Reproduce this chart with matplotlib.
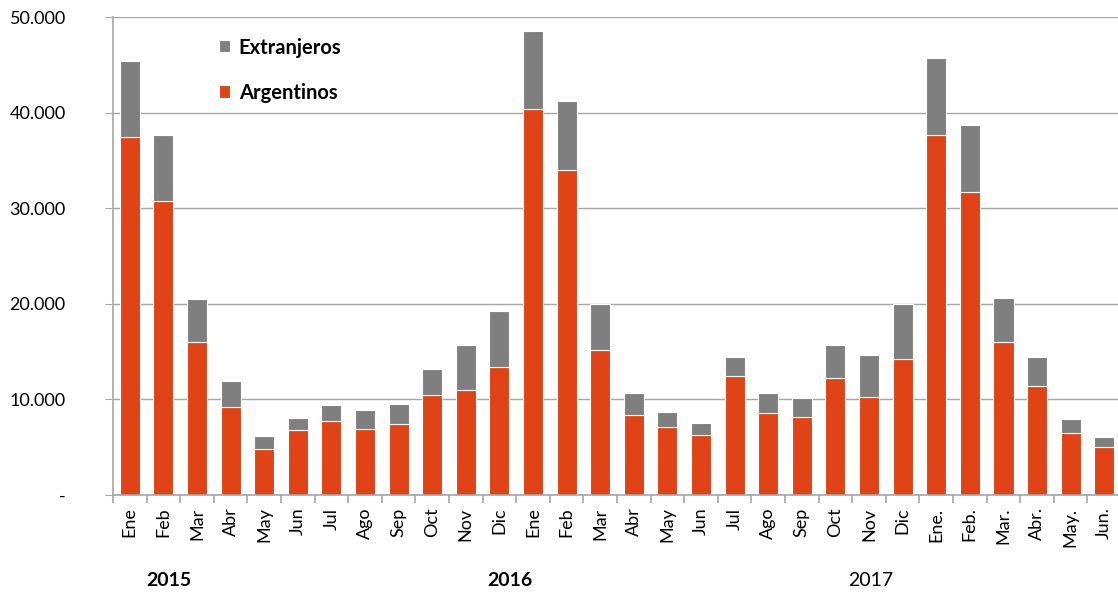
import numpy as np
import matplotlib.pyplot as plt
from matplotlib.ticker import FixedLocator, FuncFormatter

plt.rcParams['font.family'] = ['Lato', 'DejaVu Sans']

# --- datos ---
meses = ['Ene', 'Feb', 'Mar', 'Abr', 'May', 'Jun', 'Jul', 'Ago', 'Sep', 'Oct', 'Nov', 'Dic',
         'Ene', 'Feb', 'Mar', 'Abr', 'May', 'Jun', 'Jul', 'Ago', 'Sep', 'Oct', 'Nov', 'Dic',
         'Ene.', 'Feb.', 'Mar.', 'Abr.', 'May.', 'Jun.']
argentinos = [37450, 30750, 16000, 9200, 4840, 6760, 7730, 6900, 7450, 10450, 11000, 13400,
              40400, 34000, 15200, 8330, 7140, 6270, 12400, 8600, 8120, 12190, 10200, 14180,
              37660, 31700, 16000, 11390, 6510, 4980]
totales = [45400, 37660, 20500, 11940, 6200, 8080, 9440, 8850, 9480, 13170, 15700, 19250,
           48500, 41200, 20000, 10630, 8700, 7490, 14390, 10690, 10140, 15670, 14660, 19960,
           45700, 38700, 20600, 14390, 7940, 6030]
extranjeros = [t - a for t, a in zip(totales, argentinos)]
anios = ['2015', '2016', '2017']

naranja = '#E04316'
gris = '#7F7F7F'

x = np.arange(len(meses))

fig = plt.figure(figsize=(11.18, 5.95), dpi=100)
ax = fig.add_axes([113/1118, 1 - 495/595, 1005/1118, (495 - 17)/595])

ax.bar(x, argentinos, width=0.6, color=naranja, edgecolor='white', linewidth=0.8,
       label='Argentinos', zorder=2)
ax.bar(x, extranjeros, width=0.6, bottom=argentinos, color=gris, edgecolor='white',
       linewidth=0.8, label='Extranjeros', zorder=2)

ax.set_xlim(-0.5, 29.41)
ax.set_ylim(0, 50000)

# rejilla
ax.set_yticks(np.arange(0, 50001, 10000))
ax.yaxis.set_major_formatter(FuncFormatter(
    lambda v, p: '-' if v == 0 else f'{int(v):,}'.replace(',', '.')))
ax.grid(axis='y', color='#A6A6A6', linewidth=1, zorder=0)
ax.set_axisbelow(True)

for s in ['top', 'right']:
    ax.spines[s].set_visible(False)
for s in ['left', 'bottom']:
    ax.spines[s].set_color('#A6A6A6')
    ax.spines[s].set_linewidth(1.2)

ax.tick_params(axis='y', length=6, color='#A6A6A6', labelsize=13, pad=28)
ax.set_xticks(x)
ax.set_xticklabels(meses, rotation=90, fontsize=13)
ax.tick_params(axis='x', which='major', direction='in', length=4, color='#A6A6A6', pad=9)
ax.xaxis.set_minor_locator(FixedLocator(np.arange(-0.5, 30, 1)))
ax.tick_params(axis='x', which='minor', direction='out', length=6, color='#A6A6A6', width=1.2)

# años
for pos, lab, w in [(1.16, anios[0], 'bold'), (11.3, anios[1], 'bold'), (22.05, anios[2], 'normal')]:
    xf = ax.transData.transform((pos, 0))[0] / fig.bbox.width
    fig.text(xf, 1 - 581/595, lab, ha='center', va='center', fontsize=14, fontweight=w)

# leyenda
h, l = ax.get_legend_handles_labels()
leg = ax.legend(h[::-1], l[::-1], loc='upper left', bbox_to_anchor=(0.087, 0.995),
                frameon=False, prop={'weight': 'bold', 'size': 14.5},
                handlelength=0.55, handleheight=0.55, handletextpad=0.45, labelspacing=1.25)

fig.savefig('out.png', dpi=100)
